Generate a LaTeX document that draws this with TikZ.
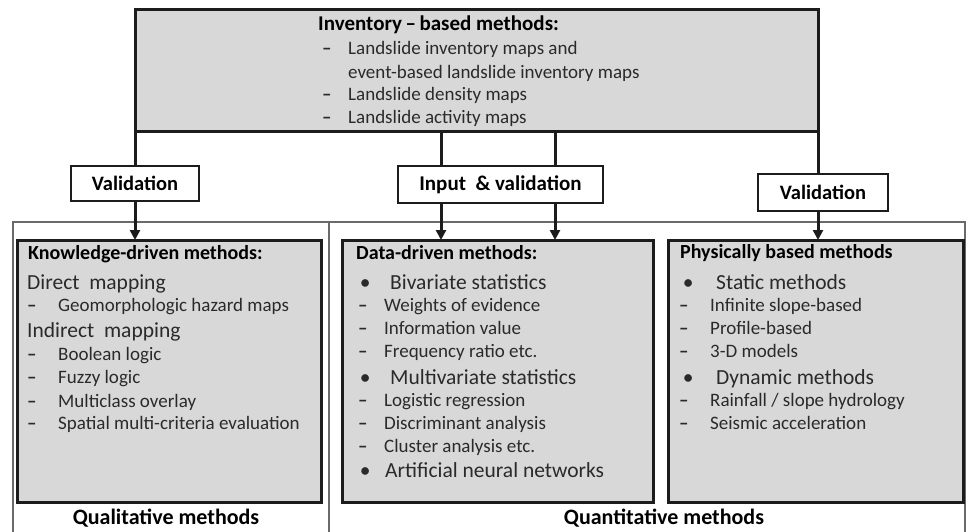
\documentclass[tikz,border=0pt]{standalone}
\usepackage{fontspec}
\setmainfont{Carlito}
\usetikzlibrary{arrows.meta}
\definecolor{boxgray}{HTML}{D8D8D8}
\definecolor{edgecol}{HTML}{1C1C1C}
\definecolor{framecol}{HTML}{6A6A6A}
\definecolor{txtcol}{HTML}{2A2A2A}
\newcommand{\dsh}[1]{\makebox[#1][l]{\textbf{–}}}
\newcommand{\bul}[1]{\makebox[#1][l]{\,•}}
\begin{document}
\begin{tikzpicture}[x=1pt,y=-1pt,
  graybox/.style={draw=edgecol, line width=3pt, fill=boxgray, anchor=north west, inner sep=0pt, outer sep=0pt},
  valbox/.style={draw=edgecol, line width=2.2pt, fill=white, anchor=north west, inner sep=0pt, outer sep=0pt, font=\fontsize{20.5}{22}\selectfont\bfseries, text=black},
  conn/.style={draw=edgecol, line width=3pt},
  arr/.style={draw=edgecol, line width=3pt, -{Triangle[length=10pt,width=10pt]}},
  frameline/.style={draw=framecol, line width=1.5pt},
  headtxt/.style={anchor=base west, inner sep=0pt, font=\fontsize{20}{22}\selectfont\bfseries, text=black},
  bigtxt/.style={anchor=base west, inner sep=0pt, font=\fontsize{21.5}{23}\selectfont, text=txtcol},
  itemtxt/.style={anchor=base west, inner sep=0pt, font=\fontsize{19}{21}\selectfont, text=txtcol},
  toptxt/.style={anchor=base west, inner sep=0pt, font=\fontsize{19}{21}\selectfont, text=txtcol},
  foottxt/.style={anchor=base, inner sep=0pt, font=\fontsize{22}{24}\selectfont\bfseries, text=black},
]
\useasboundingbox (0,0) rectangle (967,532);

% outer frames
\draw[frameline] (13,532) -- (13,222) -- (965,222) -- (965,532);
\draw[frameline] (329,222) -- (329,532);

% top box
\node[graybox, minimum width=683pt, minimum height=122pt] (topbox) at (135,10) {};
\node[headtxt, font=\fontsize{21}{23}\selectfont\bfseries] (t0) at (318,31) {Inventory\,–\,based methods:};
\node[toptxt] (t1) at (322,55) {\dsh{26pt}Landslide inventory maps and};
\node[toptxt] (t2) at (348,79) {event-based landslide inventory maps};
\node[toptxt] (t3) at (322,101) {\dsh{26pt}Landslide density maps};
\node[toptxt] (t4) at (322,124) {\dsh{26pt}Landslide activity maps};

% validation boxes
\node[valbox, minimum width=128pt, minimum height=35pt] (v1) at (71,166) {Validation};
\node[valbox, minimum width=205pt, minimum height=37pt, font=\fontsize{21}{23}\selectfont\bfseries] (v2) at (398,166) {Input\ \ \& validation};
\node[valbox, minimum width=130pt, minimum height=37pt] (v3) at (758,174) {Validation};

% method boxes
\node[graybox, minimum width=304pt, minimum height=262pt] (kbox) at (17,240) {};
\node[graybox, minimum width=311pt, minimum height=262pt] (dbox) at (342,240) {};
\node[graybox, minimum width=295pt, minimum height=262pt] (pbox) at (668,240) {};

% connectors
\coordinate (ia) at (441,132);
\coordinate (ib) at (555,132);
\draw[conn] (topbox.south west) -- (topbox.south west |- v1.north);
\draw[conn] (ia) -- (ia |- v2.north);
\draw[conn] (ib) -- (ib |- v2.north);
\draw[conn] (topbox.south east) -- (topbox.south east |- v3.north);
\draw[arr] (topbox.south west |- v1.south) -- (topbox.south west |- kbox.north);
\draw[arr] (ia |- v2.south) -- (ia |- dbox.north);
\draw[arr] (ib |- v2.south) -- (ib |- dbox.north);
\draw[arr] (topbox.south east |- v3.south) -- (topbox.south east |- pbox.north);

% knowledge-driven
\node[headtxt] (k0) at (28,259) {Knowledge-driven methods:};
\node[bigtxt] (k1) at (27,289) {Direct\ \ mapping};
\node[itemtxt] (k2) at (27,311) {\dsh{31pt}Geomorphologic hazard maps};
\node[bigtxt] (k3) at (27,337) {Indirect\ \ mapping};
\node[itemtxt] (k4) at (27,360) {\dsh{31pt}Boolean logic};
\node[itemtxt] (k5) at (27,383) {\dsh{31pt}Fuzzy logic};
\node[itemtxt] (k6) at (27,407) {\dsh{31pt}Multiclass overlay};
\node[itemtxt] (k7) at (27,429) {\dsh{31pt}Spatial multi-criteria evaluation};

% data-driven
\node[headtxt] (d0) at (356,259) {Data-driven methods:};
\node[bigtxt] (d1) at (356,289) {\bul{34pt}Bivariate statistics};
\node[itemtxt] (d2) at (358,311) {\dsh{26pt}Weights of evidence};
\node[itemtxt] (d3) at (358,334) {\dsh{26pt}Information value};
\node[itemtxt] (d4) at (358,357) {\dsh{26pt}Frequency ratio etc.};
\node[bigtxt] (d5) at (356,384) {\bul{34pt}Multivariate statistics};
\node[itemtxt] (d6) at (358,406) {\dsh{26pt}Logistic regression};
\node[itemtxt] (d7) at (358,429) {\dsh{26pt}Discriminant analysis};
\node[itemtxt] (d8) at (358,452) {\dsh{26pt}Cluster analysis etc.};
\node[bigtxt] (d9) at (356,477) {\bul{29pt}Artificial neural networks};

% physically based
\node[headtxt] (p0) at (680,258) {Physically based methods};
\node[bigtxt] (p1) at (679,289) {\bul{37pt}Static methods};
\node[itemtxt] (p2) at (679,311) {\dsh{31pt}Infinite slope-based};
\node[itemtxt] (p3) at (679,334) {\dsh{31pt}Profile-based};
\node[itemtxt] (p4) at (679,357) {\dsh{31pt}3-D models};
\node[bigtxt] (p5) at (679,384) {\bul{37pt}Dynamic methods};
\node[itemtxt] (p6) at (679,406) {\dsh{31pt}Rainfall / slope hydrology};
\node[itemtxt] (p7) at (679,429) {\dsh{31pt}Seismic acceleration};

% footers
\node[foottxt] (f1) at (166,524) {Qualitative methods};
\node[foottxt] (f2) at (664,524) {Quantitative methods};
\end{tikzpicture}
\end{document}
